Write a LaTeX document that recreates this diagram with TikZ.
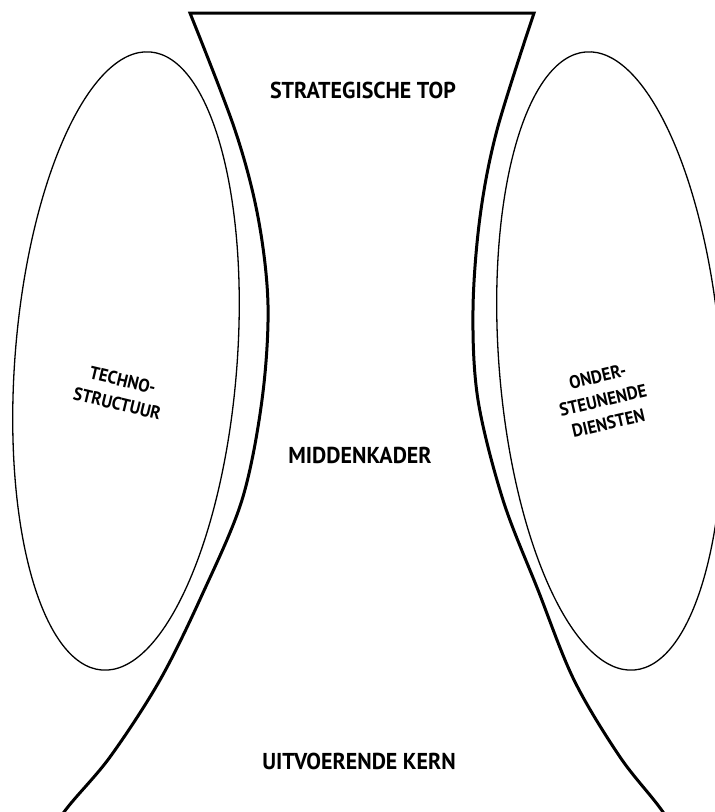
\documentclass[tikz,border=0pt]{standalone}
\usepackage{fontspec}
\setmainfont{PT Sans}
\newfontfamily\labelfont[FakeStretch=0.955]{PT Sans}
\newfontfamily\sidefont[FakeStretch=0.93]{PT Sans}
\begin{document}
\begin{tikzpicture}[x=1pt,y=-1pt,
  thinline/.style={line width=1.3pt},
  hourglass/.style={line width=3pt, line join=miter},
  mainlabel/.style={font=\labelfont\fontsize{23}{27}\selectfont\bfseries, inner sep=0pt},
  sidelabel/.style={font=\sidefont\fontsize{18.2}{24}\selectfont\bfseries, align=center, inner sep=0pt}]
\useasboundingbox (0,0) rectangle (715,812);
\clip (0,0) rectangle (715,812);
\coordinate (lc) at (126,361);
\coordinate (rc) at (610,361);
\draw[thinline, rotate around={-4.46:(lc)}] (lc) ellipse [x radius=111, y radius=310];
\draw[thinline, rotate around={4.46:(rc)}] (rc) ellipse [x radius=111, y radius=310];
\draw[hourglass] plot[smooth, tension=0.55] coordinates {(30,865) (64,812) (110,757) (160,680) (202,595) (242,500) (262,400) (268,305) (258,217) (235,130) (190,13)}
  -- plot[smooth, tension=0.55] coordinates {(534,13) (497,130) (480,217) (473,310) (478,400) (503,500) (538,590) (574,680) (620,757) (663,812) (695,865)};
\node[mainlabel] (top) at (363,90) {STRATEGISCHE TOP};
\node[mainlabel] (mid) at (360,455) {MIDDENKADER};
\node[mainlabel] (kern) at (359,761) {UITVOERENDE KERN};
\node[sidelabel, rotate=-13.5] (techno) at (120,392) {TECHNO-\\STRUCTUUR};
\node[sidelabel, rotate=13] (onder) at (603,400) {ONDER-\\STEUNENDE\\DIENSTEN};
\end{tikzpicture}
\end{document}
